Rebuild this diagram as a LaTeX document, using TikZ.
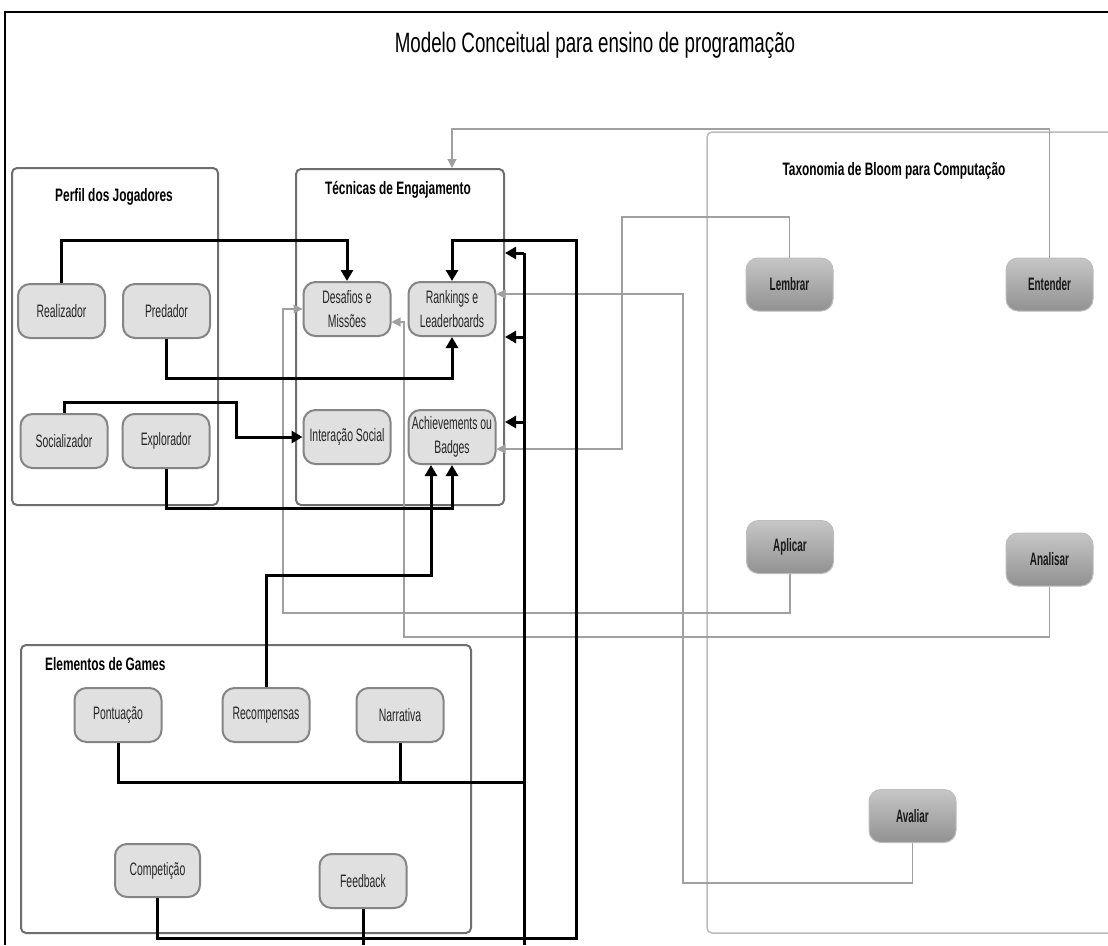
\documentclass[tikz,border=0pt]{standalone}
\usepackage{fontspec}
\setmainfont{Liberation Sans}
\newfontfamily\nodefont{Liberation Sans}[FakeStretch=0.58]
\newfontfamily\bloomfont{Liberation Sans}[FakeStretch=0.55]
\newfontfamily\grpfont{Liberation Sans}[FakeStretch=0.66]
\newfontfamily\ttlfont{Liberation Sans}[FakeStretch=0.67]
\usetikzlibrary{arrows.meta,calc,shadings}
\definecolor{nodefill}{HTML}{E0E0E0}
\definecolor{nodeborder}{HTML}{858585}
\definecolor{grpborder}{HTML}{6E6E6E}
\definecolor{grayline}{HTML}{A0A0A0}
\definecolor{bloomtop}{HTML}{C6C6C6}
\definecolor{bloombot}{HTML}{919191}
\definecolor{bloomborder}{HTML}{BDBDBD}
\definecolor{taxborder}{HTML}{BBBBBB}
\tikzset{
 gnode/.style={draw=nodeborder, line width=2pt, fill=nodefill, rounded corners=12pt,
   minimum width=87pt, minimum height=54pt, inner sep=2pt, align=center,
   font=\nodefont\fontsize{18}{24}\selectfont, text=black!85},
 bnode/.style={draw=bloomborder, line width=1pt, rounded corners=12pt,
   top color=bloomtop, bottom color=bloombot, minimum width=87pt, minimum height=53pt,
   font=\bloomfont\bfseries\fontsize{18}{20}\selectfont, text=black!90},
 grpbox/.style={draw=grpborder, line width=2pt, rounded corners=5pt, inner sep=0pt},
 taxline/.style={draw=taxborder, line width=1.5pt, rounded corners=5pt},
 grptitle/.style={font=\grpfont\bfseries\fontsize{18}{20}\selectfont, inner sep=0pt},
 blk/.style={line width=3pt, draw=black},
 blkarr/.style={blk, -{Triangle[length=11pt,width=12pt]}},
 gry/.style={line width=1.3pt, draw=grayline},
 gryarr/.style={gry, -{Triangle[length=9pt,width=9pt,fill=grayline]}},
}
\begin{document}
\begin{tikzpicture}[x=1pt,y=-1pt]
\useasboundingbox (0,0) rectangle (1108,945);
\fill[white] (0,0) rectangle (1108,945);
% outer frame (cropped)
\draw[line width=2pt, black] (1108,12) -- (5,12) -- (5,945);
% title
\node[font=\ttlfont\fontsize{28}{30}\selectfont, anchor=base, inner sep=0pt] (title) at (595,52) {Modelo Conceitual para ensino de programação};

% group boxes
\node[grpbox, minimum width=206pt, minimum height=337pt] (perf) at (115,336.5) {};
\node[grpbox, minimum width=208pt, minimum height=336pt] (tec) at (400,337) {};
\node[grpbox, minimum width=450pt, minimum height=288pt] (elem) at (246,789) {};
\draw[taxline] (1108,132) -- (707,132) -- (707,933) -- (1108,933);

\node[grptitle, anchor=base] (perft) at (114,201) {Perfil dos Jogadores};
\node[grptitle, anchor=base] (tect) at (398,194) {Técnicas de Engajamento};
\node[grptitle, anchor=base west] (elemt) at (45,670) {Elementos de Games};
\node[grptitle, anchor=base] (taxt) at (894,175) {Taxonomia de Bloom para Computação};

% nodes
\node[gnode] (real) at (61.5,311) {Realizador};
\node[gnode] (pred) at (166.5,311) {Predador};
\node[gnode] (desaf) at (347,309) {Desafios e\\Missões};
\node[gnode] (rank) at (452,309) {Rankings e\\Leaderboards};
\node[gnode] (soc) at (64,441) {Socializador};
\node[gnode] (expl) at (166,441) {Explorador};
\node[gnode] (inter) at (347,437) {Interação Social};
\node[gnode] (achv) at (452,437) {Achievements ou\\Badges};

\node[gnode] (pont) at (118,715) {Pontuação};
\node[gnode] (recomp) at (266,715) {Recompensas};
\node[gnode] (narr) at (400,715) {Narrativa};
\node[gnode, minimum width=85pt, minimum height=53pt] (compet) at (157.5,870.5) {Competição};
\node[gnode] (feedb) at (363,881) {Feedback};

\node[bnode] (lemb) at (789.5,284.5) {Lembrar};
\node[bnode] (ent) at (1049.5,284.5) {Entender};
\node[bnode] (apl) at (790,547) {Aplicar};
\node[bnode] (anal) at (1049.5,559.5) {Analisar};
\node[bnode] (aval) at (912.5,816) {Avaliar};

% helper coordinates
\coordinate (achvL) at ($(achv.south)+(-21,0)$);
\coordinate (desafE) at ($(desaf.east)+(0,13)$);
\coordinate (rankE) at ($(rank.east)+(0,-15)$);
\coordinate (achvE) at ($(achv.east)+(0,12)$);
\coordinate (tecN) at (rank.north |- tec.north);
\coordinate (busA) at (524,945);
\coordinate (feedEnd) at (feedb.south |- busA);

% gray connectors
\draw[gryarr] (apl.south) |- (283,613) |- (desaf.west);
\draw[gryarr] (anal.south) |- (404,637) |- (desafE);
\draw[gryarr] (aval.south) |- (683,883) |- (rankE);
\draw[gryarr] (lemb.north) |- (622,217) |- (achvE);
\draw[gryarr] (ent.north) |- (tecN |- 0,129) -- (tecN);

% black connectors
\draw[blkarr] (real.north) -- (real.north |- 0,240) -| (desaf.north);
\draw[blkarr] (pred.south) -- (pred.south |- 0,378) -| (rank.south);
\draw[blkarr] (soc.north) |- (236,402) |- (inter.west);
\draw[blkarr] (expl.south) -- (expl.south |- 0,508) -| (achv.south);
\draw[blkarr] (recomp.north) |- (achvL |- 0,575) -- (achvL);
\draw[blkarr] (compet.south) |- (576,938) -- (576,240) -| (rank.north);
\draw[blk] (pont.south) |- (busA |- 0,782);
\draw[blk] (narr.south) -- (narr.south |- 0,782);
\draw[blk] (busA) -- (524,253);
\draw[blkarr] (524,253) -- (tec.east |- 0,253);
\draw[blkarr] (524,337) -- (tec.east |- 0,337);
\draw[blkarr] (524,422) -- (tec.east |- 0,422);
\draw[blk] (feedb.south) -- (feedEnd);
\end{tikzpicture}
\end{document}
